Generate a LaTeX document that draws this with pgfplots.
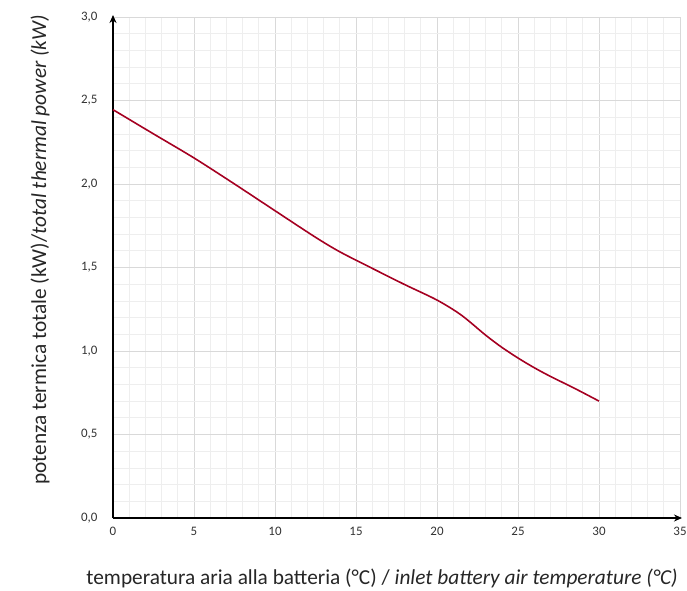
\documentclass[border=0pt]{standalone}
\usepackage{fontspec}
\setmainfont{Carlito}
\usepackage{pgfplots}
\pgfplotsset{compat=1.18}
\usetikzlibrary{arrows.meta}
\definecolor{curve}{HTML}{A50021}
\definecolor{majgrid}{HTML}{D9D9D9}
\definecolor{mingrid}{HTML}{EEEEEE}
\definecolor{txt}{HTML}{333333}
\begin{document}
\begin{tikzpicture}
\useasboundingbox (-113bp,-73bp) rectangle (574bp,518bp);
\begin{axis}[
  at={(0,0)}, anchor=south west,
  scale only axis,
  width=567bp, height=501bp,
  xmin=0, xmax=35, ymin=0, ymax=3,
  axis lines=left,
  axis line style={line width=1.4pt, -{Stealth[length=8pt,width=7pt]}, shorten >=-2pt},
  xtick={0,5,...,35}, ytick={0,0.5,...,3},
  minor xtick={0,1,...,35}, minor ytick={0,0.1,...,3},
  grid=both,
  major grid style={majgrid, line width=0.7pt},
  minor grid style={mingrid, line width=0.7pt},
  major tick length=0pt, minor tick length=0pt,
  tick label style={font=\fontsize{13}{15}\selectfont, text=txt},
  /pgf/number format/assume math mode=true,
  /pgf/number format/use comma,
  yticklabel style={/pgf/number format/fixed, /pgf/number format/fixed zerofill, /pgf/number format/precision=1, xshift=-12bp},
  xticklabel style={yshift=-6bp},
  label style={font=\fontsize{21.4}{25}\selectfont, text=black!85},
  xlabel={temperatura aria alla batteria (°C) / \textit{inlet battery air temperature (°C)}},
  ylabel={potenza termica totale (kW)/\textit{total thermal power (kW)}},
  xlabel style={at={(axis description cs:0.4745,0)}, anchor=center, yshift=-60bp},
  ylabel style={at={(axis description cs:-0.1287,0.535)}, anchor=center},
  clip=false,
]
\addplot[curve, line width=1.6pt, smooth, tension=0.5] coordinates {
(0,2.445) (2.5,2.300) (5,2.156) (7.5,2.000) (10,1.840) (12.5,1.681) (14,1.594)
(16,1.495) (18,1.398) (20,1.305) (21.5,1.215) (23,1.095) (24,1.022) (25,0.958)
(26,0.900) (27,0.848) (28.5,0.776) (30,0.70)
};
\end{axis}
\end{tikzpicture}
\end{document}
